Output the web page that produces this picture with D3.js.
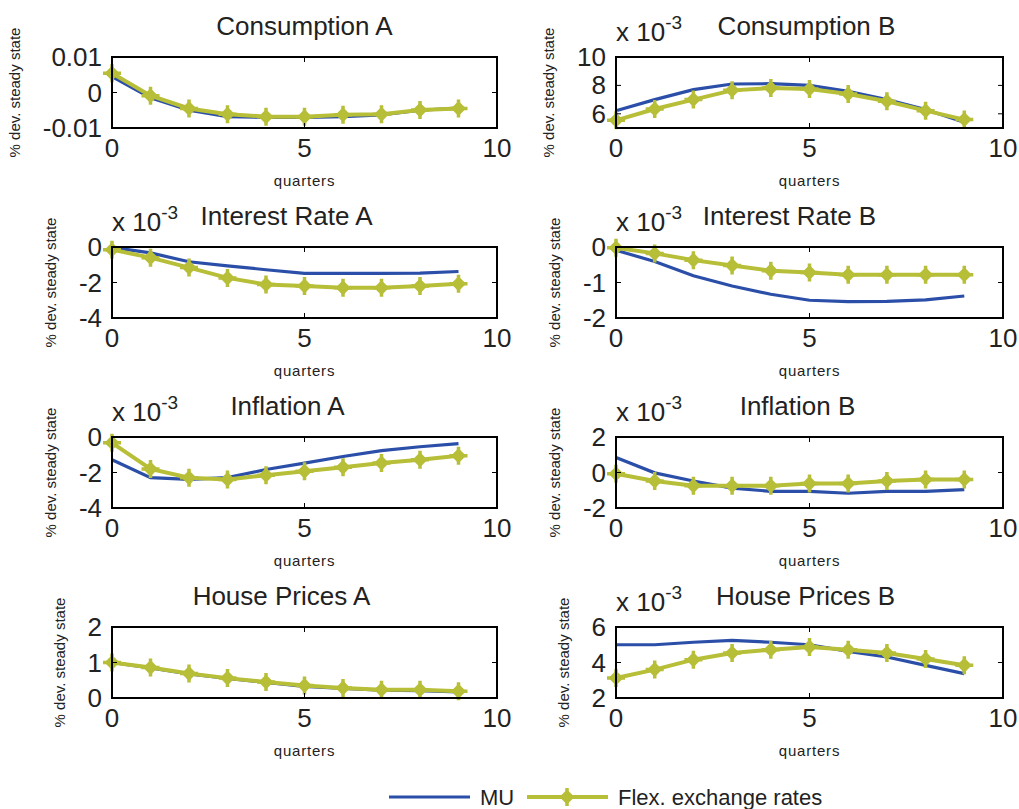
<!DOCTYPE html>
<html lang="en">
<head>
<meta charset="UTF-8">
<title>Impulse responses</title>
<style>
  body { margin: 0; background: #fff; }
  svg { display: block; font-family: "Liberation Sans", Arial, sans-serif; }
</style>
</head>
<body>
<div class="chart"></div>
<script src="https://d3js.org/d3.v7.min.js"></script>
<script>
// horizon (quarters)
var quarters = [0, 1, 2, 3, 4, 5, 6, 7, 8, 9]
var xTicks = [0, 5, 10]

var titles = ["Consumption A", "Consumption B", "Interest Rate A", "Interest Rate B",
              "Inflation A", "Inflation B", "House Prices A", "House Prices B"]
// exponent shown above the axis (null = none)
var exponents = [null, -3, -3, -3, -3, -3, null, -3]
var yDomains = [[-0.01, 0.01], [5, 10], [-4, 0], [-2, 0], [-4, 0], [-2, 2], [0, 2], [2, 6]]
var yTicks = [[-0.01, 0, 0.01], [6, 8, 10], [-4, -2, 0], [-2, -1, 0], [-4, -2, 0], [-2, 0, 2], [0, 1, 2], [2, 4, 6]]
var yTickLabels = [["-0.01", "0", "0.01"], ["6", "8", "10"], ["-4", "-2", "0"], ["-2", "-1", "0"],
                   ["-4", "-2", "0"], ["-2", "0", "2"], ["0", "1", "2"], ["2", "4", "6"]]

// MU (monetary union)
var muSeries = [
  [0.0045, -0.0015, -0.005, -0.0068, -0.0070, -0.0070, -0.0068, -0.0063, -0.005, -0.0044],
  [6.22, 7.0, 7.7, 8.1, 8.12, 8.0, 7.58, 7.0, 6.3, 5.4],
  [-0.02, -0.33, -0.83, -1.06, -1.28, -1.49, -1.49, -1.49, -1.47, -1.38],
  [-0.09, -0.41, -0.81, -1.1, -1.33, -1.5, -1.54, -1.53, -1.49, -1.38],
  [-1.28, -2.29, -2.39, -2.29, -1.83, -1.47, -1.1, -0.77, -0.55, -0.37],
  [0.84, -0.02, -0.48, -0.88, -1.06, -1.06, -1.17, -1.06, -1.06, -0.97],
  [1.0, 0.85, 0.68, 0.55, 0.44, 0.33, 0.27, 0.22, 0.21, 0.17],
  [5.0, 5.0, 5.14, 5.25, 5.14, 5.0, 4.63, 4.31, 3.84, 3.37]
]
// Flexible exchange rates
var flexSeries = [
  [0.0054, -0.0009, -0.0045, -0.0061, -0.0068, -0.0068, -0.0063, -0.0061, -0.0049, -0.0045],
  [5.54, 6.34, 7.0, 7.65, 7.82, 7.75, 7.39, 6.88, 6.22, 5.59],
  [-0.15, -0.6, -1.16, -1.74, -2.11, -2.2, -2.29, -2.29, -2.2, -2.07],
  [-0.02, -0.18, -0.37, -0.52, -0.67, -0.72, -0.78, -0.78, -0.78, -0.78],
  [-0.33, -1.8, -2.29, -2.39, -2.15, -1.93, -1.71, -1.47, -1.28, -1.05],
  [-0.07, -0.48, -0.75, -0.75, -0.75, -0.62, -0.62, -0.48, -0.39, -0.39],
  [1.0, 0.86, 0.69, 0.56, 0.45, 0.35, 0.28, 0.23, 0.23, 0.19],
  [3.13, 3.6, 4.16, 4.54, 4.72, 4.87, 4.72, 4.54, 4.2, 3.84]
]
var legendLabels = ["MU", "Flex. exchange rates"]

// layout
var W = 1019, H = 809
var colX = [[112, 497], [616, 1003]]
var rowTop = [57, 247, 437, 627]
var axH = 71
var titleDx = [0, -3, -18, -20, -17, -12, -23, -4]
var blue = "#2b4fa8", olive = "#b7be37", ink = "#222"

var svg = d3.select(".chart").append("svg").attr("width", W).attr("height", H)

function marker(sel) {
  sel.append("path").attr("d", "M0,-7.5L7.5,0L0,7.5L-7.5,0Z").attr("fill", olive)
  sel.append("path").attr("d", "M-9,0H9M0,-9V9").attr("stroke", olive).attr("stroke-width", 3.5)
}

titles.forEach(function(title, i) {
  var col = i % 2, row = Math.floor(i / 2)
  var x0 = colX[col][0], x1 = colX[col][1]
  var y0 = rowTop[row], y1 = rowTop[row] + axH
  var x = d3.scaleLinear().domain([0, 10]).range([x0, x1])
  var y = d3.scaleLinear().domain(yDomains[i]).range([y1, y0])
  var g = svg.append("g")

  // lines
  var line = d3.line().x(function(d, k) { return x(quarters[k]) }).y(function(d) { return y(d) })
  g.append("path").datum(muSeries[i]).attr("d", line)
    .attr("fill", "none").attr("stroke", blue).attr("stroke-width", 3.2)
  g.append("path").datum(flexSeries[i]).attr("d", line)
    .attr("fill", "none").attr("stroke", olive).attr("stroke-width", 4)
  g.selectAll(".mk").data(flexSeries[i]).enter().append("g")
    .attr("transform", function(d, k) { return "translate(" + x(quarters[k]) + "," + y(d) + ")" })
    .call(marker)

  // box + inside ticks
  g.append("rect").attr("x", x0).attr("y", y0).attr("width", x1 - x0).attr("height", y1 - y0)
    .attr("fill", "none").attr("stroke", "#000").attr("stroke-width", 2)
  xTicks.forEach(function(t) {
    g.append("line").attr("x1", x(t)).attr("x2", x(t)).attr("y1", y1).attr("y2", y1 - 5).attr("stroke", "#000")
    g.append("line").attr("x1", x(t)).attr("x2", x(t)).attr("y1", y0).attr("y2", y0 + 5).attr("stroke", "#000")
    g.append("text").attr("x", x(t)).attr("y", y1 + 29).attr("text-anchor", "middle")
      .attr("font-size", 26).attr("fill", ink).text(t)
  })
  var minLeft = x0
  yTicks[i].forEach(function(t, k) {
    g.append("line").attr("x1", x0).attr("x2", x0 + 5).attr("y1", y(t)).attr("y2", y(t)).attr("stroke", "#000")
    g.append("line").attr("x1", x1).attr("x2", x1 - 5).attr("y1", y(t)).attr("y2", y(t)).attr("stroke", "#000")
    var lab = g.append("text").attr("x", x0 - 10).attr("y", y(t) + 9).attr("text-anchor", "end")
      .attr("font-size", 26).attr("fill", ink).text(yTickLabels[i][k])
    minLeft = Math.min(minLeft, lab.node().getBBox().x)
  })

  // labels
  g.append("text").attr("transform", "translate(" + (minLeft - 23) + "," + ((y0 + y1) / 2) + ") rotate(-90)")
    .attr("text-anchor", "middle").attr("font-size", 15).attr("fill", ink).text("% dev. steady state")
  g.append("text").attr("x", (x0 + x1) / 2).attr("y", y1 + 58).attr("text-anchor", "middle")
    .attr("font-size", 15).attr("letter-spacing", 0.8).attr("fill", ink).text("quarters")
  g.append("text").attr("x", (x0 + x1) / 2 + titleDx[i]).attr("y", y0 - 22).attr("text-anchor", "middle")
    .attr("font-size", 26).attr("fill", ink).text(title)
  if (exponents[i] !== null) {
    var ex = g.append("text").attr("x", x0).attr("y", y0 - 16).attr("font-size", 26).attr("fill", ink)
    ex.append("tspan").text("x 10")
    ex.append("tspan").attr("dy", -12).attr("font-size", 19).text(exponents[i])
  }
})

// legend
var lg = svg.append("g")
lg.append("line").attr("x1", 389).attr("x2", 470).attr("y1", 797).attr("y2", 797)
  .attr("stroke", blue).attr("stroke-width", 3.2)
lg.append("text").attr("x", 480).attr("y", 805).attr("font-size", 22).attr("fill", ink).text(legendLabels[0])
lg.append("line").attr("x1", 527).attr("x2", 608).attr("y1", 797).attr("y2", 797)
  .attr("stroke", olive).attr("stroke-width", 4)
lg.append("g").attr("transform", "translate(567,797)").call(marker)
lg.append("text").attr("x", 618).attr("y", 805).attr("font-size", 22).attr("fill", ink).text(legendLabels[1])
</script>
</body>
</html>
